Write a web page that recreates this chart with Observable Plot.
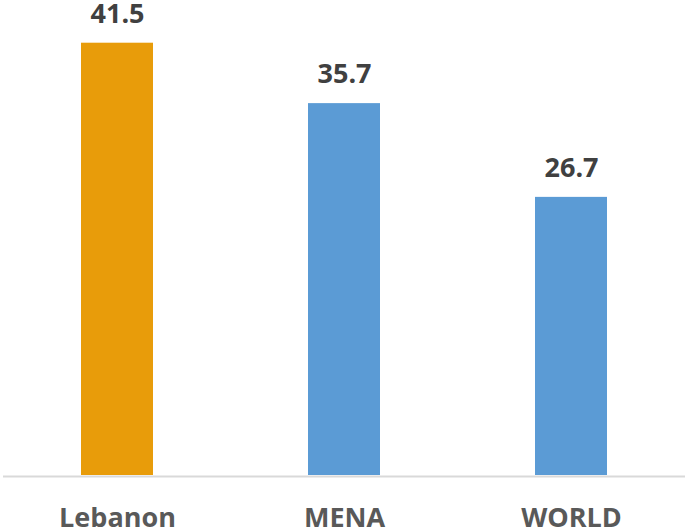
<!DOCTYPE html>
<html>
<head>
<meta charset="utf-8">
<script src="https://cdn.jsdelivr.net/npm/d3@7"></script>
<script src="https://cdn.jsdelivr.net/npm/@observablehq/plot@0.6"></script>
<style>
  html, body { margin: 0; padding: 0; background: #fff; }
  #chart svg { display: block; }
</style>
</head>
<body>
<div id="chart"></div>
<script>
const categories = ["Lebanon", "MENA", "WORLD"];
const values = [41.5, 35.7, 26.7];
const barColors = ["#E89C0A", "#5B9BD5", "#5B9BD5"];

const data = categories.map((c, i) => ({category: c, value: values[i], color: barColors[i]}));

const chart = Plot.plot({
  width: 685,
  height: 530,
  marginTop: 0,
  marginLeft: 3,
  marginRight: 0,
  marginBottom: 55,
  style: {fontFamily: "'Open Sans', sans-serif", background: "#fff"},
  x: {domain: categories, paddingInner: 0.684, paddingOuter: 0.34, label: null},
  y: {domain: [0, 45.6], axis: null},
  marks: [
    Plot.barY(data, {x: "category", y: "value", fill: "color"}),
    Plot.ruleY([0], {stroke: "#d9d9d9", strokeWidth: 2, dy: 1}),
    Plot.text(data, {
      x: "category", y: "value", text: d => d.value.toFixed(1),
      lineAnchor: "middle", dy: -29,
      fontSize: 27, fontWeight: "bold", fill: "#404040"
    }),
    Plot.axisX({
      tickSize: 0, tickPadding: 32, fontSize: 27, fontWeight: "bold",
      color: "#595959", label: null
    })
  ]
});
document.getElementById("chart").appendChild(chart);
</script>
</body>
</html>
